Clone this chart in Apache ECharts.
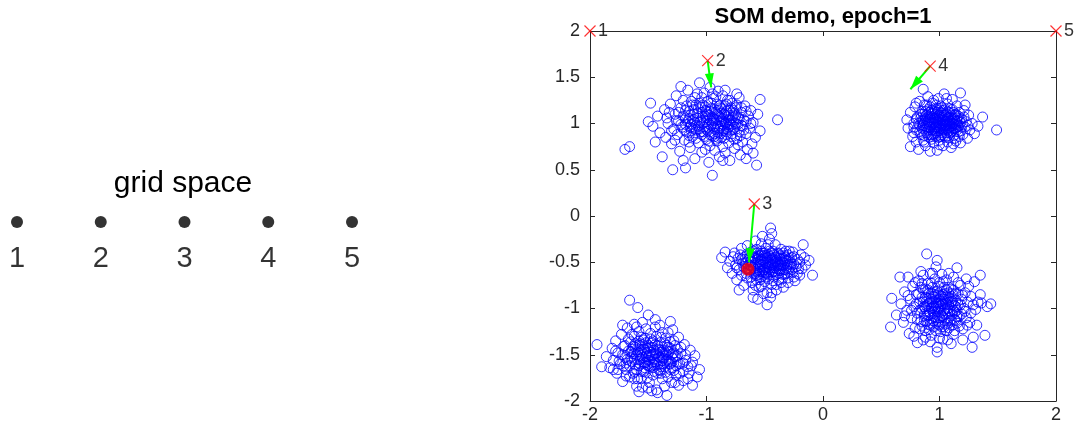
<!DOCTYPE html>
<html>
<head>
<meta charset="utf-8">
<script src="https://cdn.jsdelivr.net/npm/echarts@6/dist/echarts.min.js"></script>
<style>
  html, body { margin: 0; padding: 0; background: #ffffff; }
  #chart { width: 1075px; height: 429px; }
</style>
</head>
<body>
<div id="chart"></div>
<script>
// Input samples, one array per cluster ([x, y])
const clusterUpperLeft = [[-1.70,0.72],[-1.66,0.75],[-1.50,1.02],[-1.48,1.22],[-1.46,0.97],[-1.42,1.08],[-1.40,0.90],[-1.38,0.64],[-1.36,1.15],[-1.35,0.85],[-1.33,1.00],[-1.31,1.21],[-1.30,0.78],[-1.29,0.50],[-1.28,0.94],[-1.27,1.10],[-1.26,1.30],[-1.25,0.88],[-1.24,1.03],[-1.23,0.70],[-1.22,1.17],[-1.21,0.96],[-1.20,1.25],[-1.19,0.82],[-1.18,0.52],[-1.18,1.06],[-1.17,0.91],[-1.16,1.36],[-1.15,1.13],[-1.14,0.74],[-1.13,0.99],[-1.12,1.20],[-1.12,0.86],[-1.11,1.04],[-1.10,0.62],[-1.10,1.28],[-1.09,0.93],[-1.08,1.11],[-1.07,0.79],[-1.06,1.44],[-1.06,1.01],[-1.05,1.18],[-1.04,0.88],[-1.04,0.69],[-1.03,1.07],[-1.02,1.33],[-1.02,0.96],[-1.01,1.14],[-1.00,0.83],[-1.00,1.02],[-0.99,1.24],[-0.99,0.92],[-0.98,0.58],[-0.98,1.09],[-0.97,0.76],[-0.97,1.39],[-0.96,0.98],[-0.96,1.16],[-0.95,0.44],[-0.95,0.87],[-0.94,1.05],[-0.94,1.27],[-0.93,0.94],[-0.93,0.71],[-0.92,1.12],[-0.92,1.00],[-0.91,0.81],[-0.91,1.21],[-0.90,1.35],[-0.90,0.90],[-0.89,1.08],[-0.89,0.64],[-0.88,0.97],[-0.88,1.17],[-0.87,0.85],[-0.87,1.03],[-0.86,1.30],[-0.86,0.75],[-0.85,1.10],[-0.85,0.93],[-0.84,1.19],[-0.84,0.68],[-0.83,1.01],[-0.83,0.88],[-0.82,1.25],[-0.82,1.07],[-0.81,0.79],[-0.81,0.96],[-0.80,1.14],[-0.80,0.60],[-0.79,1.03],[-0.79,0.86],[-0.78,1.22],[-0.77,0.94],[-0.77,1.09],[-0.76,0.73],[-0.75,1.00],[-0.75,1.17],[-0.74,0.84],[-0.73,1.06],[-0.72,0.91],[-0.72,1.28],[-0.71,0.66],[-0.70,1.12],[-0.70,0.98],[-0.69,0.80],[-0.68,1.04],[-0.67,1.19],[-0.66,0.89],[-0.65,0.72],[-0.64,1.08],[-0.63,0.95],[-0.62,1.14],[-0.61,0.78],[-0.60,0.68],[-0.60,1.01],[-0.58,0.85],[-0.57,0.55],[-0.56,1.10],[-0.54,0.92],[-0.54,1.26],[-0.39,1.04],[-1.44,0.80],[-1.32,1.12],[-1.27,0.82],[-1.14,0.96],[-1.09,1.20],[-1.01,0.72],[-0.97,1.04],[-0.93,0.86],[-0.90,1.14],[-0.86,0.99],[-0.83,1.13],[-0.79,0.93],[-0.76,1.11],[-0.73,0.77],[-0.69,0.97],[-0.66,1.02],[-1.22,1.40],[-1.08,1.32],[-0.84,1.36],[-0.74,1.32],[-1.20,0.60],[-0.86,0.60],[-0.66,0.62],
  [-1.24,1.12],[-1.22,0.99],[-1.20,1.08],[-1.19,0.93],[-1.17,1.19],[-1.16,1.02],[-1.15,0.87],[-1.14,1.09],[-1.13,1.24],[-1.12,0.95],[-1.11,1.15],[-1.10,1.01],[-1.09,0.84],[-1.08,1.06],[-1.07,0.97],[-1.06,1.22],[-1.05,0.91],[-1.04,1.12],[-1.03,1.00],[-1.02,0.86],[-1.01,1.18],[-1.00,0.94],[-0.99,1.10],[-0.98,1.00],[-0.97,0.88],[-0.96,1.22],[-0.95,1.07],[-0.94,0.96],[-0.93,1.15],[-0.92,0.83],[-0.91,1.04],[-0.90,0.97],[-0.89,1.19],[-0.88,0.89],[-0.87,1.11],[-0.86,1.05],[-0.85,0.84],[-0.84,1.00],[-0.83,1.21],[-0.82,0.94],[-0.81,1.09],[-0.80,1.00],[-0.79,1.17],[-0.78,0.89],[-0.77,1.02],[-0.76,0.96],[-0.75,1.08],[-0.74,1.20],[-0.73,0.99],[-0.72,1.05],[-0.71,0.87],[-0.70,1.17],[-1.18,1.14],[-1.10,0.90],[-1.04,1.28],[-0.98,0.81],[-0.92,1.29],[-0.86,0.92],[-0.80,1.25],[-0.76,0.83],[-1.26,1.03],[-1.30,0.92],[-1.34,1.06],[-0.68,0.93],[-0.66,1.13],[-0.62,1.00],[-1.15,0.80],[-0.95,1.32],[-0.88,1.02],[-1.00,1.06],
  [-1.15,1.05],[-1.13,0.92],[-1.11,1.10],[-1.09,0.98],[-1.07,1.16],[-1.05,1.03],[-1.03,0.91],[-1.01,1.08],[-0.99,0.96],[-0.97,1.13],[-0.95,1.00],[-0.93,0.89],[-0.91,1.10],[-0.89,0.94],[-0.87,1.16],[-0.85,1.02],[-0.83,0.91],[-0.81,1.04],[-0.79,0.98],[-0.77,1.14],[-1.12,1.03],[-1.06,0.94],[-1.00,1.13],[-0.94,1.03],[-0.88,1.07],[-0.82,0.99],[-1.18,0.99],[-1.03,1.20],[-0.90,0.85],[-0.78,1.06]];

const clusterUpperRight = [[0.72,1.04],[0.73,0.95],[0.75,0.75],[0.75,1.12],[0.77,0.86],[0.78,1.00],[0.79,1.18],[0.80,0.80],[0.80,0.93],[0.81,1.07],[0.82,0.72],[0.83,1.24],[0.83,0.98],[0.84,0.88],[0.85,1.13],[0.85,1.03],[0.86,1.37],[0.86,0.82],[0.87,0.94],[0.87,1.20],[0.88,1.08],[0.88,0.76],[0.89,1.00],[0.89,0.90],[0.90,1.29],[0.90,1.15],[0.91,0.85],[0.91,1.04],[0.92,0.96],[0.92,0.70],[0.93,1.10],[0.93,0.88],[0.94,1.22],[0.94,1.01],[0.95,0.79],[0.95,0.94],[0.96,1.06],[0.96,1.16],[0.97,0.86],[0.97,0.99],[0.98,0.71],[0.98,1.12],[0.98,1.03],[0.99,0.92],[0.99,1.27],[1.00,0.82],[1.00,1.00],[1.00,1.09],[1.01,0.95],[1.01,1.19],[1.02,0.88],[1.02,1.05],[1.03,0.76],[1.03,1.14],[1.04,0.97],[1.04,1.32],[1.05,1.02],[1.05,0.85],[1.06,1.10],[1.06,0.93],[1.07,1.21],[1.07,0.80],[1.08,1.00],[1.08,1.07],[1.09,0.90],[1.09,1.16],[1.10,0.97],[1.10,0.74],[1.11,1.04],[1.11,1.26],[1.12,0.87],[1.12,1.12],[1.13,0.95],[1.14,1.02],[1.14,0.81],[1.15,1.19],[1.16,0.91],[1.16,1.08],[1.17,0.98],[1.18,1.33],[1.18,0.79],[1.19,1.05],[1.20,0.88],[1.21,1.14],[1.22,0.96],[1.23,1.02],[1.24,0.84],[1.25,1.09],[1.26,0.93],[1.28,1.00],[1.30,0.89],[1.33,0.97],[1.37,1.07],[1.49,0.93],[0.84,1.06],[0.88,0.97],[0.91,1.12],[0.93,0.83],[0.95,1.05],[0.97,1.20],[0.99,1.05],[1.01,0.86],[1.03,1.07],[1.05,0.95],[1.07,1.13],[1.09,1.03],[1.11,0.92],[1.13,1.09],[1.15,0.99],[1.17,0.86],[1.19,0.96],[0.96,0.92],[1.02,0.98],[1.06,1.04],[0.90,1.02],[0.86,1.10],[1.12,1.00],[0.80,1.22],[1.22,1.20],[0.78,0.90],
  [0.82,1.00],[0.83,0.91],[0.84,1.10],[0.85,0.95],[0.86,1.03],[0.87,0.87],[0.88,1.13],[0.89,0.96],[0.90,1.07],[0.90,0.88],[0.91,0.99],[0.92,1.18],[0.92,1.06],[0.93,0.93],[0.94,1.11],[0.94,0.86],[0.95,1.00],[0.96,0.95],[0.96,1.13],[0.97,1.04],[0.97,0.90],[0.98,0.97],[0.98,1.16],[0.99,1.01],[0.99,0.85],[1.00,1.07],[1.00,0.94],[1.01,1.12],[1.01,1.00],[1.02,0.90],[1.02,1.17],[1.03,1.03],[1.03,0.94],[1.04,1.09],[1.04,0.87],[1.05,0.99],[1.05,1.15],[1.06,0.90],[1.06,0.98],[1.07,1.06],[1.07,0.94],[1.08,1.12],[1.08,0.85],[1.09,0.97],[1.10,1.06],[1.10,0.91],[1.11,1.00],[1.11,1.15],[1.12,0.95],[1.13,1.04],[1.13,0.84],[1.14,1.10],[1.15,0.93],[1.15,1.03],[1.16,0.97],[1.17,1.12],[1.18,0.92],[1.18,1.01],[0.89,1.20],[0.95,1.25],[1.06,1.27],[0.87,0.80],[1.00,0.77],[1.12,0.78],[1.21,1.07],[1.24,0.98],[0.80,1.05],[0.78,0.96],[1.04,1.01],[0.96,1.01],
  [0.86,0.98],[0.88,1.05],[0.90,0.93],[0.92,1.01],[0.94,1.07],[0.96,0.89],[0.98,1.08],[1.00,0.97],[1.02,1.11],[1.04,0.93],[1.06,1.02],[1.08,0.92],[1.10,1.09],[1.12,1.06],[1.14,0.95],[0.93,1.14],[0.97,0.96],[1.01,1.04],[1.05,1.09],[1.09,0.99],[1.13,0.99],[0.89,1.09],[0.95,0.88],[1.07,0.87],[0.99,1.14],[1.03,0.99],[0.91,0.96],[1.15,1.06],[0.87,1.01],[1.17,1.03]];

const clusterCentre = [[-0.87,-0.45],[-0.84,-0.39],[-0.82,-0.56],[-0.80,-0.49],[-0.78,-0.62],[-0.76,-0.40],[-0.75,-0.53],[-0.74,-0.69],[-0.73,-0.46],[-0.72,-0.58],[-0.71,-0.42],[-0.70,-0.35],[-0.70,-0.64],[-0.69,-0.51],[-0.68,-0.75],[-0.67,-0.44],[-0.66,-0.57],[-0.65,-0.32],[-0.65,-0.67],[-0.64,-0.48],[-0.63,-0.60],[-0.62,-0.39],[-0.62,-0.54],[-0.61,-0.72],[-0.60,-0.80],[-0.60,-0.88],[-0.60,-0.45],[-0.59,-0.63],[-0.58,-0.27],[-0.58,-0.51],[-0.57,-0.36],[-0.57,-0.69],[-0.56,-0.56],[-0.55,-0.43],[-0.55,-0.77],[-0.54,-0.60],[-0.54,-0.49],[-0.53,-0.30],[-0.53,-0.66],[-0.52,-0.53],[-0.52,-0.40],[-0.51,-0.84],[-0.51,-0.58],[-0.50,-0.46],[-0.50,-0.71],[-0.49,-0.35],[-0.49,-0.62],[-0.48,-0.96],[-0.48,-0.83],[-0.48,-0.51],[-0.47,-0.42],[-0.47,-0.68],[-0.46,-0.56],[-0.46,-0.25],[-0.45,-0.13],[-0.45,-0.48],[-0.44,-0.19],[-0.44,-0.74],[-0.44,-0.61],[-0.43,-0.38],[-0.43,-0.53],[-0.42,-0.66],[-0.41,-0.45],[-0.41,-0.31],[-0.40,-0.57],[-0.40,-0.80],[-0.39,-0.50],[-0.38,-0.41],[-0.38,-0.69],[-0.37,-0.59],[-0.36,-0.47],[-0.36,-0.36],[-0.35,-0.63],[-0.34,-0.77],[-0.34,-0.54],[-0.33,-0.43],[-0.32,-0.58],[-0.31,-0.49],[-0.30,-0.67],[-0.29,-0.38],[-0.28,-0.55],[-0.27,-0.45],[-0.26,-0.39],[-0.26,-0.61],[-0.25,-0.52],[-0.24,-0.70],[-0.22,-0.47],[-0.21,-0.57],[-0.20,-0.64],[-0.19,-0.42],[-0.17,-0.31],[-0.15,-0.53],[-0.12,-0.48],[-0.09,-0.64],[-0.66,-0.50],[-0.61,-0.43],[-0.57,-0.60],[-0.53,-0.47],[-0.49,-0.56],[-0.46,-0.44],[-0.43,-0.60],[-0.40,-0.48],[-0.37,-0.53],[-0.34,-0.46],[-0.31,-0.62],[-0.58,-0.75],[-0.64,-0.58],[-0.55,-0.52],[-0.51,-0.64],[-0.42,-0.51],[-0.50,-0.40],[-0.56,-0.90],[-0.45,-0.88],[-0.72,-0.80],
  [-0.68,-0.55],[-0.67,-0.47],[-0.66,-0.62],[-0.65,-0.41],[-0.64,-0.53],[-0.63,-0.45],[-0.62,-0.66],[-0.61,-0.50],[-0.60,-0.38],[-0.59,-0.57],[-0.58,-0.45],[-0.57,-0.64],[-0.56,-0.40],[-0.55,-0.58],[-0.54,-0.69],[-0.53,-0.42],[-0.52,-0.60],[-0.51,-0.49],[-0.50,-0.55],[-0.49,-0.43],[-0.48,-0.66],[-0.47,-0.50],[-0.46,-0.38],[-0.45,-0.58],[-0.44,-0.46],[-0.43,-0.70],[-0.42,-0.42],[-0.41,-0.54],[-0.40,-0.63],[-0.39,-0.40],[-0.38,-0.52],[-0.37,-0.46],[-0.36,-0.57],[-0.35,-0.68],[-0.34,-0.40],[-0.33,-0.51],[-0.32,-0.45],[-0.31,-0.56],[-0.30,-0.42],[-0.29,-0.60],[-0.28,-0.50],[-0.27,-0.58],[-0.25,-0.44],[-0.23,-0.55],[-0.22,-0.62],[-0.20,-0.50],[-0.18,-0.57],[-0.16,-0.45],[-0.62,-0.58],[-0.58,-0.40],[-0.54,-0.55],[-0.50,-0.61],[-0.47,-0.55],[-0.44,-0.52],[-0.41,-0.60],[-0.38,-0.57],[-0.35,-0.50],[-0.32,-0.38],[-0.47,-0.31],[-0.52,-0.22],[-0.40,-0.74],[-0.36,-0.72],[-0.56,-0.47],[-0.70,-0.47],[-0.74,-0.56],[-0.77,-0.44],[-0.44,-0.83],[-0.53,-0.76],[-0.30,-0.72],[-0.25,-0.66],
  [-0.62,-0.49],[-0.60,-0.56],[-0.58,-0.62],[-0.56,-0.44],[-0.54,-0.52],[-0.52,-0.47],[-0.50,-0.58],[-0.48,-0.45],[-0.46,-0.60],[-0.44,-0.40],[-0.42,-0.56],[-0.40,-0.44],[-0.38,-0.62],[-0.36,-0.52],[-0.34,-0.58],[-0.32,-0.48],[-0.30,-0.53],[-0.55,-0.63],[-0.49,-0.50],[-0.45,-0.53],[-0.41,-0.49],[-0.37,-0.43],[-0.33,-0.63],[-0.53,-0.38],[-0.47,-0.63],[-0.39,-0.54],[-0.29,-0.46],[-0.27,-0.52],[-0.43,-0.46],[-0.51,-0.43]];

const clusterLowerRight = [[0.58,-1.20],[0.59,-0.89],[0.63,-1.07],[0.66,-0.66],[0.67,-0.95],[0.69,-1.15],[0.70,-0.82],[0.72,-1.02],[0.73,-0.66],[0.74,-1.27],[0.75,-0.90],[0.76,-1.10],[0.77,-0.76],[0.78,-0.98],[0.79,-1.21],[0.80,-0.85],[0.81,-1.37],[0.81,-1.05],[0.82,-0.70],[0.83,-0.93],[0.84,-1.14],[0.84,-0.60],[0.85,-1.00],[0.86,-1.34],[0.86,-0.80],[0.87,-1.08],[0.88,-0.88],[0.88,-1.24],[0.89,-0.41],[0.89,-0.97],[0.90,-0.73],[0.90,-1.17],[0.91,-0.84],[0.91,-1.03],[0.92,-0.62],[0.92,-0.93],[0.93,-1.29],[0.93,-1.11],[0.94,-0.77],[0.94,-0.99],[0.95,-0.87],[0.95,-1.20],[0.96,-0.68],[0.96,-1.06],[0.97,-0.94],[0.97,-0.55],[0.98,-0.48],[0.98,-1.42],[0.98,-1.47],[0.98,-0.81],[0.99,-1.14],[0.99,-1.01],[1.00,-0.90],[1.00,-0.72],[1.01,-1.25],[1.01,-0.97],[1.02,-1.08],[1.02,-0.63],[1.03,-0.85],[1.03,-1.33],[1.04,-1.02],[1.04,-0.77],[1.05,-1.17],[1.05,-0.93],[1.06,-0.69],[1.07,-1.34],[1.07,-1.05],[1.08,-0.88],[1.08,-1.21],[1.09,-0.99],[1.10,-0.79],[1.10,-1.12],[1.11,-0.92],[1.12,-1.28],[1.12,-0.66],[1.13,-1.04],[1.14,-0.84],[1.15,-0.56],[1.15,-1.16],[1.16,-0.96],[1.17,-1.08],[1.18,-0.75],[1.19,-0.90],[1.20,-1.22],[1.21,-1.00],[1.22,-0.83],[1.23,-1.10],[1.24,-0.93],[1.26,-1.15],[1.27,-0.87],[1.28,-1.42],[1.29,-1.31],[1.30,-0.71],[1.31,-1.01],[1.33,-0.93],[1.35,-0.64],[1.35,-0.85],[1.36,-0.94],[1.39,-1.29],[1.41,-0.98],[1.44,-0.95],[0.87,-0.98],[0.90,-1.08],[0.93,-0.90],[0.96,-1.00],[0.99,-0.84],[1.02,-0.95],[1.05,-1.06],[1.08,-0.96],[1.11,-1.06],[1.14,-0.98],[0.95,-1.13],[1.00,-1.18],[1.06,-0.80],[0.85,-0.73],[1.16,-0.72],[1.20,-1.34],[0.78,-1.30],[1.25,-0.76],[0.83,-1.22],[1.10,-1.38],[0.92,-1.36],
  [0.80,-0.95],[0.81,-1.12],[0.82,-0.84],[0.83,-1.02],[0.84,-0.77],[0.85,-1.19],[0.86,-0.93],[0.87,-1.06],[0.88,-0.79],[0.89,-1.14],[0.90,-0.95],[0.91,-1.23],[0.91,-0.89],[0.92,-1.05],[0.93,-0.73],[0.94,-1.16],[0.95,-0.97],[0.95,-0.82],[0.96,-1.09],[0.97,-1.24],[0.97,-0.88],[0.98,-1.03],[0.99,-0.76],[0.99,-0.94],[1.00,-1.10],[1.01,-0.86],[1.01,-1.05],[1.02,-1.20],[1.03,-0.95],[1.03,-0.71],[1.04,-1.13],[1.05,-0.84],[1.05,-1.00],[1.06,-1.24],[1.07,-0.91],[1.08,-1.10],[1.08,-0.77],[1.09,-1.03],[1.10,-0.87],[1.11,-1.18],[1.11,-0.96],[1.12,-0.80],[1.13,-1.12],[1.14,-0.91],[1.15,-1.02],[1.16,-0.84],[1.17,-1.19],[1.18,-0.96],[1.19,-1.06],[1.20,-0.86],[1.22,-1.03],[1.24,-1.18],[0.76,-1.02],[0.73,-0.86],[0.79,-0.72],[0.88,-1.31],[1.00,-1.32],[1.13,-1.24],[1.27,-1.05],[1.29,-0.96],[0.94,-0.62],[1.08,-0.62],[0.70,-1.08],[1.32,-1.18],[0.86,-0.64],[1.23,-0.68],[0.99,-0.98],[1.04,-0.90],[0.93,-1.00],[1.07,-1.16],
  [0.85,-0.88],[0.87,-1.13],[0.89,-0.92],[0.91,-1.07],[0.93,-0.84],[0.95,-1.04],[0.97,-0.98],[0.99,-1.17],[1.01,-0.92],[1.03,-1.09],[1.05,-0.88],[1.07,-1.00],[1.09,-1.13],[1.11,-0.84],[1.13,-0.97],[1.15,-1.09],[0.88,-1.00],[0.92,-1.18],[0.96,-0.85],[1.00,-1.03],[1.04,-1.20],[1.08,-0.83],[1.12,-1.02],[0.90,-0.80],[0.98,-1.10],[1.06,-0.95],[1.14,-1.13],[0.94,-0.93],[1.02,-0.87],[1.10,-0.93]];

const clusterLowerLeft = [[-1.94,-1.39],[-1.90,-1.63],[-1.86,-1.52],[-1.83,-1.64],[-1.81,-1.43],[-1.80,-1.56],[-1.78,-1.35],[-1.77,-1.70],[-1.76,-1.48],[-1.74,-1.60],[-1.73,-1.28],[-1.72,-1.79],[-1.71,-1.41],[-1.70,-1.53],[-1.69,-1.66],[-1.68,-1.21],[-1.67,-1.46],[-1.66,-0.91],[-1.66,-1.74],[-1.65,-1.36],[-1.64,-1.57],[-1.63,-1.49],[-1.62,-1.30],[-1.62,-1.68],[-1.61,-1.42],[-1.60,-1.84],[-1.59,-0.99],[-1.59,-1.55],[-1.58,-1.25],[-1.58,-1.62],[-1.57,-1.38],[-1.56,-1.51],[-1.56,-1.76],[-1.55,-1.85],[-1.55,-1.15],[-1.54,-1.44],[-1.53,-1.59],[-1.53,-1.32],[-1.52,-1.69],[-1.51,-1.48],[-1.50,-1.07],[-1.50,-1.40],[-1.50,-1.56],[-1.49,-1.80],[-1.48,-1.27],[-1.48,-1.63],[-1.47,-1.51],[-1.46,-1.35],[-1.46,-1.72],[-1.45,-1.45],[-1.44,-1.58],[-1.44,-1.20],[-1.43,-1.88],[-1.42,-1.91],[-1.42,-1.40],[-1.41,-1.66],[-1.40,-1.18],[-1.40,-1.53],[-1.39,-1.31],[-1.38,-1.76],[-1.38,-1.47],[-1.37,-1.60],[-1.36,-1.38],[-1.35,-1.69],[-1.34,-1.94],[-1.34,-1.50],[-1.33,-1.26],[-1.32,-1.57],[-1.31,-1.43],[-1.30,-1.80],[-1.29,-1.23],[-1.29,-1.64],[-1.28,-1.35],[-1.27,-1.52],[-1.26,-1.72],[-1.25,-1.44],[-1.24,-1.83],[-1.24,-1.31],[-1.23,-1.60],[-1.22,-1.49],[-1.20,-1.68],[-1.19,-1.39],[-1.18,-1.56],[-1.16,-1.76],[-1.14,-1.45],[-1.13,-1.62],[-1.12,-1.58],[-1.12,-1.83],[-1.10,-1.51],[-1.08,-1.74],[-1.06,-1.66],[-1.69,-1.59],[-1.64,-1.44],[-1.60,-1.66],[-1.57,-1.47],[-1.54,-1.34],[-1.51,-1.61],[-1.48,-1.42],[-1.45,-1.55],[-1.42,-1.70],[-1.40,-1.45],[-1.37,-1.54],[-1.34,-1.40],[-1.31,-1.60],[-1.28,-1.48],[-1.25,-1.58],[-1.60,-1.20],[-1.52,-1.22],[-1.36,-1.84],[-1.76,-1.66],[-1.47,-1.89],[-1.20,-1.78],[-1.72,-1.18],[-1.31,-1.14],[-1.62,-1.76],
  [-1.72,-1.50],[-1.71,-1.62],[-1.70,-1.40],[-1.69,-1.73],[-1.68,-1.55],[-1.67,-1.33],[-1.66,-1.62],[-1.65,-1.47],[-1.64,-1.28],[-1.63,-1.70],[-1.62,-1.55],[-1.61,-1.38],[-1.60,-1.50],[-1.59,-1.76],[-1.58,-1.44],[-1.57,-1.60],[-1.56,-1.31],[-1.55,-1.53],[-1.54,-1.68],[-1.53,-1.45],[-1.52,-1.37],[-1.51,-1.75],[-1.50,-1.62],[-1.49,-1.50],[-1.48,-1.33],[-1.47,-1.58],[-1.46,-1.42],[-1.45,-1.68],[-1.44,-1.49],[-1.43,-1.30],[-1.42,-1.61],[-1.41,-1.52],[-1.40,-1.37],[-1.39,-1.70],[-1.38,-1.56],[-1.37,-1.45],[-1.36,-1.63],[-1.35,-1.32],[-1.34,-1.55],[-1.33,-1.74],[-1.32,-1.47],[-1.31,-1.36],[-1.30,-1.58],[-1.29,-1.49],[-1.28,-1.67],[-1.27,-1.40],[-1.26,-1.62],[-1.25,-1.51],[-1.23,-1.70],[-1.22,-1.42],[-1.20,-1.59],[-1.18,-1.50],[-1.16,-1.63],[-1.75,-1.57],[-1.78,-1.46],[-1.80,-1.66],[-1.58,-1.90],[-1.50,-1.86],[-1.62,-1.17],[-1.44,-1.12],[-1.38,-1.26],[-1.27,-1.80],[-1.15,-1.70],[-1.54,-1.58],[-1.46,-1.64],[-1.48,-1.47],[-1.52,-1.52],[-1.40,-1.58],[-1.57,-1.40],[-1.35,-1.48],
  [-1.65,-1.53],[-1.63,-1.41],[-1.61,-1.61],[-1.59,-1.47],[-1.57,-1.55],[-1.55,-1.39],[-1.53,-1.64],[-1.51,-1.43],[-1.49,-1.56],[-1.47,-1.37],[-1.45,-1.61],[-1.43,-1.48],[-1.41,-1.44],[-1.39,-1.63],[-1.37,-1.50],[-1.35,-1.57],[-1.33,-1.42],[-1.31,-1.66],[-1.29,-1.54],[-1.62,-1.49],[-1.56,-1.68],[-1.50,-1.52],[-1.44,-1.39],[-1.38,-1.52],[-1.32,-1.60],[-1.58,-1.35],[-1.46,-1.50],[-1.40,-1.67],[-1.52,-1.58],[-1.34,-1.46]];

// SOM node weights (1-D chain of 5 nodes) at this epoch
const nodeLabels = ['1', '2', '3', '4', '5'];
const nodeX = [-2, -0.99, -0.59, 0.92, 2];
const nodeY = [2, 1.68, 0.13, 1.62, 2];

// Update steps: [node index, target x, target y]
const updateSteps = [[1, -0.96, 1.39], [2, -0.635, -0.50], [3, 0.75, 1.37]];

// Current input sample
const currentSample = [-0.644, -0.575];

// Grid-space layout of the nodes
const gridPositions = [1, 2, 3, 4, 5];

// Axis ticks
const xTickMin = -2, xTickMax = 2, xTickStep = 1;
const yTickMin = -2, yTickMax = 2, yTickStep = 0.5;

const FONT = '"Liberation Sans", Arial, Helvetica, sans-serif';
const AXIS_COLOR = '#262626';

const nodeData = nodeX.map((x, i) => ({ value: [x, nodeY[i]], name: nodeLabels[i] }));
const arrowData = updateSteps.map(s => ({ coords: [[nodeX[s[0]], nodeY[s[0]]], [s[1], s[2]]] }));

function clusterSeries(data) {
  return {
    type: 'scatter', xAxisIndex: 0, yAxisIndex: 0, data: data,
    symbol: 'circle', symbolSize: 10, z: 2, silent: true,
    itemStyle: { color: 'rgba(0,0,0,0)', borderColor: '#0000ff', borderWidth: 1 }
  };
}

// Arrow head with its tip at the centre of the symbol box, so the tip lands on the end point
const ARROW_HEAD = 'path://M0,12L4,0L8,12Z M4,-12L4,-12';

const chart = echarts.init(document.getElementById('chart'), null, { renderer: 'canvas' });

chart.setOption({
  animation: false,
  backgroundColor: '#ffffff',
  title: [
    {
      text: 'SOM demo, epoch=1', left: 818, top: 1, textAlign: 'center',
      textStyle: { fontFamily: FONT, fontSize: 22, fontWeight: 'bold', color: '#000000' }
    },
    {
      text: 'grid space', left: 178, top: 164, textAlign: 'center',
      textStyle: { fontFamily: FONT, fontSize: 30, fontWeight: 'normal', color: '#000000' }
    }
  ],
  grid: [
    { left: 590, top: 31, width: 466, height: 370, show: false },
    { left: 17, top: 200, width: 335, height: 44, show: false }
  ],
  xAxis: [
    {
      gridIndex: 0, type: 'value', position: 'bottom',
      min: xTickMin, max: xTickMax, interval: xTickStep,
      splitLine: { show: false },
      axisLine: { show: true, onZero: false, lineStyle: { color: AXIS_COLOR, width: 1 } },
      axisTick: { show: true, inside: true, length: 5, lineStyle: { color: AXIS_COLOR } },
      axisLabel: { show: true, margin: 5, color: AXIS_COLOR, fontFamily: FONT, fontSize: 18 }
    },
    {
      gridIndex: 0, type: 'value', position: 'top',
      min: xTickMin, max: xTickMax, interval: xTickStep,
      splitLine: { show: false },
      axisLine: { show: true, onZero: false, lineStyle: { color: AXIS_COLOR, width: 1 } },
      axisTick: { show: true, inside: true, length: 5, lineStyle: { color: AXIS_COLOR } },
      axisLabel: { show: false }
    },
    { gridIndex: 1, type: 'value', min: 1, max: 5, show: false }
  ],
  yAxis: [
    {
      gridIndex: 0, type: 'value', position: 'left',
      min: yTickMin, max: yTickMax, interval: yTickStep,
      splitLine: { show: false },
      axisLine: { show: true, onZero: false, lineStyle: { color: AXIS_COLOR, width: 1 } },
      axisTick: { show: true, inside: true, length: 5, lineStyle: { color: AXIS_COLOR } },
      axisLabel: { show: true, margin: 10, color: AXIS_COLOR, fontFamily: FONT, fontSize: 18 }
    },
    {
      gridIndex: 0, type: 'value', position: 'right',
      min: yTickMin, max: yTickMax, interval: yTickStep,
      splitLine: { show: false },
      axisLine: { show: true, onZero: false, lineStyle: { color: AXIS_COLOR, width: 1 } },
      axisTick: { show: true, inside: true, length: 5, lineStyle: { color: AXIS_COLOR } },
      axisLabel: { show: false }
    },
    { gridIndex: 1, type: 'value', min: 0, max: 1, show: false }
  ],
  series: [
    clusterSeries(clusterUpperLeft),
    clusterSeries(clusterUpperRight),
    clusterSeries(clusterCentre),
    clusterSeries(clusterLowerRight),
    clusterSeries(clusterLowerLeft),
    {
      // weight updates
      type: 'lines', coordinateSystem: 'cartesian2d', xAxisIndex: 0, yAxisIndex: 0,
      data: arrowData, z: 4, silent: true,
      symbol: ['none', ARROW_HEAD],
      symbolSize: [[9, 28], [9, 28]],
      lineStyle: { color: '#00ff00', width: 2, opacity: 1 },
      itemStyle: { color: '#00ff00' }
    },
    {
      // SOM nodes
      type: 'scatter', xAxisIndex: 0, yAxisIndex: 0, data: nodeData, z: 5, silent: true,
      symbol: 'path://M0,0L10,10M10,0L0,10', symbolSize: 11,
      itemStyle: { color: 'rgba(0,0,0,0)', borderColor: '#ff0000', borderWidth: 1.2 },
      label: {
        show: true, position: 'right', distance: 2, formatter: p => p.name,
        color: '#000000', fontFamily: FONT, fontSize: 18
      }
    },
    {
      // current input sample
      type: 'scatter', xAxisIndex: 0, yAxisIndex: 0, data: [currentSample], z: 6, silent: true,
      symbol: 'circle', symbolSize: 13,
      itemStyle: { color: '#ff0000' }
    },
    {
      // node layout in grid space
      type: 'scatter', xAxisIndex: 2, yAxisIndex: 2, silent: true,
      data: gridPositions.map((g, i) => ({ value: [g, 0.5], name: nodeLabels[i] })),
      symbol: 'circle', symbolSize: 12,
      itemStyle: { color: '#000000' },
      label: {
        show: true, position: 'bottom', distance: 16, formatter: p => p.name,
        color: '#000000', fontFamily: FONT, fontSize: 29
      }
    }
  ]
});
</script>
</body>
</html>
